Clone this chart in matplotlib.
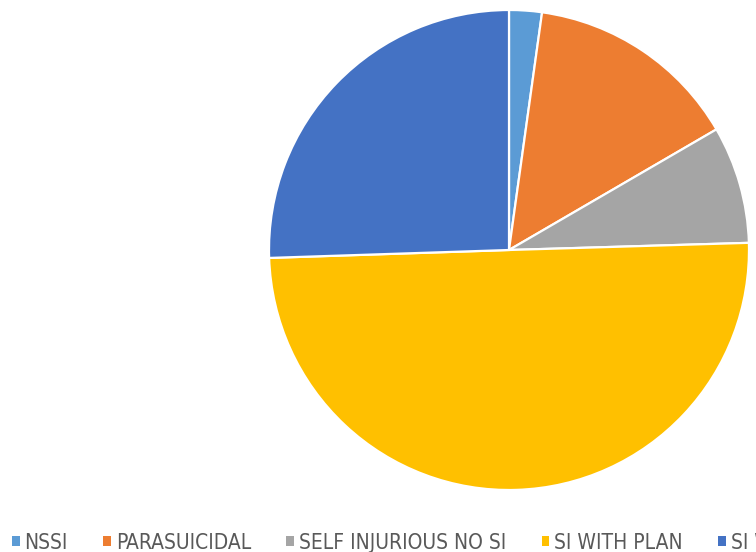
import matplotlib.pyplot as plt
from matplotlib.patches import Patch

# datos (porcentajes)
categorias = ['NSSI', 'PARASUICIDAL', 'SELF INJURIOUS NO SI', 'SI WITH PLAN', 'SI WITHOUT PLAN']
valores = [2.2, 14.4, 7.9, 49.9, 25.5]
colores = ['#5B9BD5', '#ED7D31', '#A5A5A5', '#FFC000', '#4472C4']

fig = plt.figure(figsize=(7.56, 5.52), dpi=100)
ax = fig.add_axes([269 / 756, 62 / 552, 480 / 756, 480 / 552])
ax.pie(valores, colors=colores, startangle=90, counterclock=False,
       wedgeprops=dict(edgecolor='white', linewidth=1.6))
ax.set_xlim(-1, 1)
ax.set_ylim(-1, 1)
ax.set_aspect('equal')

handles = [Patch(facecolor=c, edgecolor='none') for c in colores]
fig.legend(handles, categorias, ncol=5, loc='lower left',
           bbox_to_anchor=(-0.009, -0.035), frameon=False,
           prop=dict(family='DejaVu Sans', stretch='condensed', size=15),
           labelcolor='#595959',
           handlelength=0.38, handleheight=0.38, handletextpad=0.22,
           columnspacing=1.7)

fig.savefig('out.png', dpi=100)
